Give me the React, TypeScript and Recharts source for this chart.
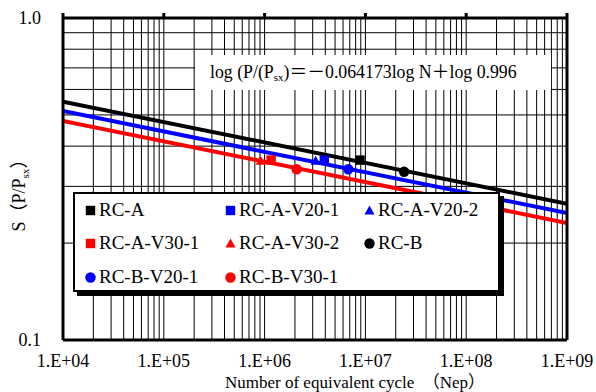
import React from "react"
import { CartesianGrid, ComposedChart, Line, Scatter, XAxis, YAxis } from "recharts"

// axis ticks
const xDecades = [1e4, 1e5, 1e6, 1e7, 1e8, 1e9]
const xDecadeLabels = ["1.E+04", "1.E+05", "1.E+06", "1.E+07", "1.E+08", "1.E+09"]
const minorSteps = [1, 2, 3, 4, 5, 6, 7, 8, 9]
const yTicks = [0.1, 0.2, 0.3, 0.4, 0.5, 0.6, 0.7, 0.8, 0.9, 1]
const yLabelValues = [0.1, 1]
const yLabelTexts = ["0.1", "1.0"]

// fitted S-N lines (end points read at N = 1e4 and 1e9)
const fitN = [1e4, 1e9]
const fitRCA = [0.55, 0.265]
const fitV20 = [0.514, 0.248]
const fitV30 = [0.479, 0.231]

// test results
const specimenNames = ["RC-A", "RC-A-V20-1", "RC-A-V20-2", "RC-A-V30-1", "RC-A-V30-2", "RC-B", "RC-B-V20-1", "RC-B-V30-1"]
const specimenN = [8.84e6, 3.91e6, 3.21e6, 1.16e6, 9.15e5, 2.42e7, 6.77e6, 2.08e6]
const specimenS = [0.362, 0.362, 0.36, 0.362, 0.36, 0.333, 0.339, 0.339]

const markerColor: Record<string, string> = {
    "RC-A": "#000000",
    "RC-A-V20-1": "#0000ff",
    "RC-A-V20-2": "#0000ff",
    "RC-A-V30-1": "#ff0000",
    "RC-A-V30-2": "#ff0000",
    "RC-B": "#000000",
    "RC-B-V20-1": "#0000ff",
    "RC-B-V30-1": "#ff0000",
}
const markerKind: Record<string, string> = {
    "RC-A": "square",
    "RC-A-V20-1": "square",
    "RC-A-V20-2": "triangle",
    "RC-A-V30-1": "square",
    "RC-A-V30-2": "triangle",
    "RC-B": "circle",
    "RC-B-V20-1": "circle",
    "RC-B-V30-1": "circle",
}

const serif = '"Liberation Serif", "Times New Roman", "Noto Sans CJK JP", serif'

const xTicks = xDecades.flatMap((d, i) => (i === xDecades.length - 1 ? [d] : minorSteps.map((m) => d * m)))

const toLine = (vals: number[]) => fitN.map((n, i) => ({ n, s: vals[i] }))

const Marker = (props: any) => {
    const { cx, cy, fill, kind } = props
    if (cx == null || cy == null) return null
    if (kind === "circle") return <circle cx={cx} cy={cy} r={5.2} fill={fill} />
    if (kind === "triangle")
        return <polygon points={`${cx},${cy - 5} ${cx + 5},${cy + 4} ${cx - 5},${cy + 4}`} fill={fill} />
    return <rect x={cx - 4.7} y={cy - 4.7} width={9.4} height={9.4} fill={fill} />
}

const XTitle = () => (
    <text x={225} y={388} fontFamily={serif} fontSize={17} fill="#000">
        Number of equivalent cycle　（Nep）
    </text>
)

const YTitle = () => (
    <text transform="translate(25,191) rotate(-90)" textAnchor="middle" fontFamily={serif} fontSize={18} fill="#000">
        S（P/P
        <tspan fontSize={11} dy={4}>sx</tspan>
        <tspan dy={-4}>）</tspan>
    </text>
)

const LegendBox = () => (
    <div
        style={{
            position: "absolute",
            left: 73,
            top: 192,
            width: 413,
            height: 96,
            border: "2px solid #000",
            boxShadow: "4px 4px 0 #000",
            background: "#fff",
            display: "grid",
            gridTemplateColumns: "140px 139px 1fr",
            gridTemplateRows: "32px 34px 34px",
            paddingLeft: 10,
            fontFamily: serif,
            fontSize: 19,
        }}
    >
        {specimenNames.map((name) => (
            <div key={name} style={{ display: "flex", alignItems: "center", whiteSpace: "nowrap" }}>
                <svg width={11} height={11} style={{ marginRight: 3 }}>
                    <Marker cx={5.5} cy={5.5} fill={markerColor[name]} kind={markerKind[name]} />
                </svg>
                {name}
            </div>
        ))}
    </div>
)

const Equation = () => (
    <div
        style={{
            position: "absolute",
            left: 195,
            top: 55,
            width: 356,
            height: 35,
            background: "#fff",
            fontFamily: serif,
            fontSize: 17.8,
            lineHeight: "34px",
            paddingLeft: 15,
            boxSizing: "border-box",
            whiteSpace: "nowrap",
        }}
    >
        log (P/(P<span style={{ fontSize: 11, verticalAlign: -3, lineHeight: 0 }}>sx</span>)＝－0.064173log N＋log 0.996
    </div>
)

export default function App() {
    return (
        <div style={{ position: "absolute", left: 0, top: 0, width: 596, height: 392, background: "#fff" }}>
            <ComposedChart width={596} height={392} margin={{ top: 0, right: 0, bottom: 0, left: 0 }}>
                <CartesianGrid stroke="#000" strokeWidth={1} />
                <XAxis
                    dataKey="n"
                    type="number"
                    scale="log"
                    domain={[1e4, 1e9]}
                    allowDataOverflow
                    ticks={xTicks}
                    interval={0}
                    tickFormatter={(v: number) => {
                        const i = xDecades.indexOf(v)
                        return i >= 0 ? xDecadeLabels[i] : ""
                    }}
                    tickLine={false}
                    tickSize={6}
                    tickMargin={8}
                    axisLine={{ stroke: "#000", strokeWidth: 3 }}
                    tick={{ fill: "#000", fontSize: 18, fontFamily: serif }}
                    height={52}
                />
                <XAxis
                    xAxisId="top"
                    orientation="top"
                    dataKey="n"
                    type="number"
                    scale="log"
                    domain={[1e4, 1e9]}
                    allowDataOverflow
                    ticks={xDecades}
                    interval={0}
                    tickFormatter={() => ""}
                    tickLine={{ stroke: "#000", strokeWidth: 3 }}
                    tickSize={5}
                    axisLine={{ stroke: "#000", strokeWidth: 3 }}
                    height={18}
                />
                <YAxis
                    dataKey="s"
                    type="number"
                    scale="log"
                    domain={[0.1, 1]}
                    allowDataOverflow
                    ticks={yTicks}
                    interval={0}
                    tickFormatter={(v: number) => {
                        const i = yLabelValues.indexOf(v)
                        return i >= 0 ? yLabelTexts[i] : ""
                    }}
                    tickLine={false}
                    tickSize={6}
                    tickMargin={16}
                    axisLine={{ stroke: "#000", strokeWidth: 3 }}
                    tick={{ fill: "#000", fontSize: 18, fontFamily: serif }}
                    width={63}
                />
                <YAxis
                    yAxisId="right"
                    orientation="right"
                    type="number"
                    scale="log"
                    domain={[0.1, 1]}
                    allowDataOverflow
                    tick={false}
                    tickLine={false}
                    axisLine={{ stroke: "#000", strokeWidth: 3 }}
                    width={29}
                />
                <Line data={toLine(fitRCA)} dataKey="s" stroke="#000" strokeWidth={4} dot={false} isAnimationActive={false} />
                <Line data={toLine(fitV20)} dataKey="s" stroke="#0000ff" strokeWidth={4} dot={false} isAnimationActive={false} />
                <Line data={toLine(fitV30)} dataKey="s" stroke="#ff0000" strokeWidth={4} dot={false} isAnimationActive={false} />
                {specimenNames.map((name, i) => (
                    <Scatter
                        key={name}
                        name={name}
                        data={[{ n: specimenN[i], s: specimenS[i] }]}
                        dataKey="s"
                        fill={markerColor[name]}
                        shape={(p: any) => <Marker {...p} kind={markerKind[name]} />}
                        isAnimationActive={false}
                    />
                ))}
                <XTitle />
                <YTitle />
            </ComposedChart>
            <Equation />
            <LegendBox />
        </div>
    )
}
